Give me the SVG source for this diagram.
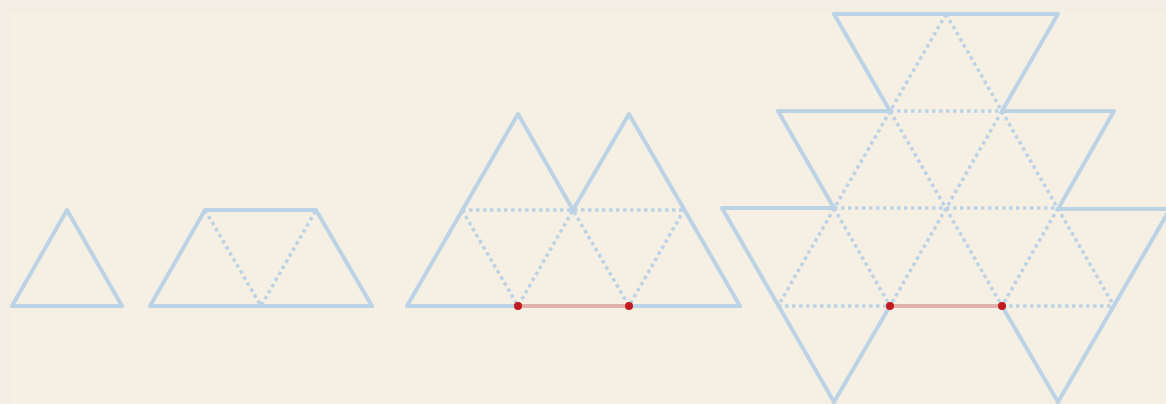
<svg xmlns="http://www.w3.org/2000/svg" width="1166" height="404" viewBox="0 0 1166 404">
<style>
.s{fill:none;stroke:#bcd2e5;stroke-width:4;stroke-linejoin:round;stroke-linecap:round}
.d{fill:none;stroke:#bcd2e5;stroke-width:3.5;stroke-dasharray:3.5 3.5}
.r{stroke:#e2b0aa;stroke-width:4}
.p{fill:#c41a1f}
</style>
<rect width="1166" height="404" fill="#f3eee3"/>
<rect x="10" y="13" width="1156" height="391" fill="#f5efe4"/>
<g id="n1">
<path class="s" d="M12,306 L67,210 L122,306 Z"/>
</g>
<g id="n2">
<path class="d" d="M205,210 L261,306 L316,210"/>
<path class="s" d="M150,306 L205,210 L316,210 L372,306 Z"/>
</g>
<g id="n3">
<path class="d" d="M462,210 L684,210 M462,210 L518,306 L573,210 L629,306 L684,210"/>
<path class="s" d="M518,306 L407,306 L518,114 L573,210 L629,114 L740,306 L629,306"/>
</g>
<g id="n4">
<path class="d" d="M946,14 L778,306 M946,14 L1114,306 M890,111 L1002,111 M890,111 L1002,306 M1002,111 L890,306 M834,208 L1058,208 M834,208 L890,306 M1058,208 L1002,306 M778,306 L890,306 M1002,306 L1114,306"/>
<path class="s" d="M834,14 L1058,14 L1002,111 L1114,111 L1058,209 L1170,209 L1058,402 L1002,306"/>
<path class="s" d="M890,306 L834,402 L722,208 L834,208 L778,111 L890,111 L834,14"/>
</g>
<g id="connectors">
<line class="r" x1="518" y1="306" x2="629" y2="306"/>
<line class="r" x1="890" y1="306" x2="1002" y2="306"/>
<circle class="p" cx="518" cy="306" r="4"/>
<circle class="p" cx="629" cy="306" r="4"/>
<circle class="p" cx="890" cy="306" r="4"/>
<circle class="p" cx="1002" cy="306" r="4"/>
</g>
</svg>
